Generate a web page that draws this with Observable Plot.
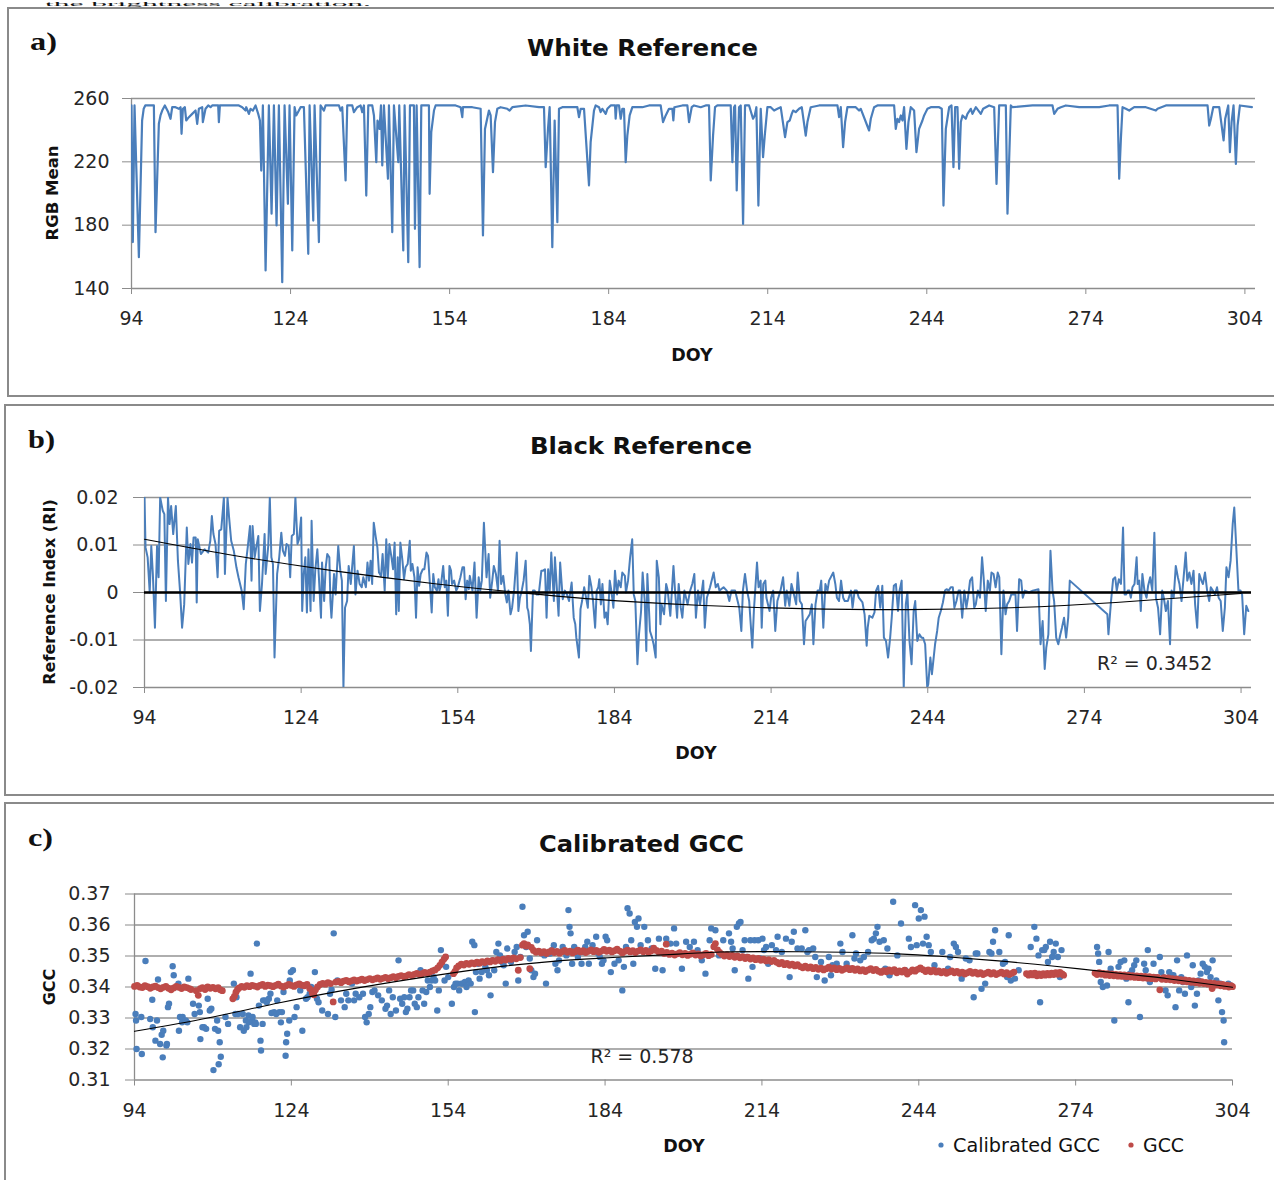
<!DOCTYPE html>
<html><head><meta charset="utf-8">
<script src="https://cdn.jsdelivr.net/npm/d3@7"></script>
<script src="https://cdn.jsdelivr.net/npm/@observablehq/plot@0.6"></script>
<style>
html,body{margin:0;padding:0;background:#fff;}
body{width:1274px;height:1180px;overflow:hidden;position:relative;font-family:"DejaVu Sans",sans-serif;}
.box{position:absolute;border:2px solid #8a8a8a;box-sizing:border-box;}
.plot{position:absolute;left:0;}
.plot svg{overflow:visible;}
#ov{position:absolute;left:0;top:0;pointer-events:none;}
</style></head><body>
<div class="box" style="left:7px;top:7px;width:1300px;height:390px"></div>
<div class="box" style="left:4px;top:404px;width:1300px;height:392px"></div>
<div class="box" style="left:4px;top:802px;width:1300px;height:400px"></div>
<script>
// ---------- tick values / labels ----------
const doyTicks = [94, 124, 154, 184, 214, 244, 274, 304];
const doyLabels = ["94", "124", "154", "184", "214", "244", "274", "304"];
const rgbTicks = [140, 180, 220, 260];
const rgbLabels = ["140", "180", "220", "260"];
const riTicks = [-0.02, -0.01, 0, 0.01, 0.02];
const riLabels = ["-0.02", "-0.01", "0", "0.01", "0.02"];
const gccTicks = [0.31, 0.32, 0.33, 0.34, 0.35, 0.36, 0.37];
const gccLabels = ["0.31", "0.32", "0.33", "0.34", "0.35", "0.36", "0.37"];

// ---------- a) White reference: [DOY, RGB mean] ----------
const whiteRef = [[94.0,255.6],[94.25,169.3],[94.57,255.6],[95.39,159.8],[96.0,246.1],[96.3,253.5],[96.6,255.6],[98.22,255.6],[98.53,175.6],[99.16,244.0],[99.47,249.3],[99.79,252.4],[100.29,255.6],[100.92,251.4],[101.36,247.2],[101.68,254.5],[102.3,254.5],[102.93,253.5],[103.25,254.5],[103.44,237.7],[103.69,253.5],[104.06,254.5],[104.32,246.1],[104.82,248.2],[105.45,250.3],[106.08,252.4],[106.39,244.0],[106.71,253.5],[107.34,254.5],[107.46,245.1],[107.96,253.5],[108.47,255.6],[108.91,254.5],[109.22,255.6],[110.35,255.6],[110.48,245.1],[110.67,255.6],[114.25,255.6],[114.88,254.5],[115.51,252.4],[115.64,254.5],[116.14,250.3],[116.45,253.5],[116.9,252.4],[117.4,255.6],[117.9,250.3],[118.22,246.1],[118.47,214.5],[118.78,255.6],[119.29,151.4],[119.91,255.6],[120.42,187.2],[120.86,255.6],[121.36,179.8],[121.8,255.6],[122.43,144.0],[122.87,255.6],[123.5,193.5],[123.81,255.6],[124.32,164.0],[124.76,254.5],[125.07,249.3],[125.57,252.4],[125.89,254.5],[126.52,254.5],[127.34,161.9],[127.59,255.6],[128.28,182.9],[128.53,255.6],[129.35,169.3],[129.66,255.6],[130.29,252.4],[130.61,255.6],[133.12,255.6],[133.44,252.4],[133.75,254.5],[134.38,208.2],[134.69,255.6],[135.64,255.6],[135.95,251.4],[136.58,254.5],[137.21,255.6],[137.52,251.4],[137.84,255.6],[138.28,198.7],[138.66,255.6],[139.41,255.6],[139.73,249.3],[140.17,219.8],[140.4,246.1],[140.79,240.8],[141.05,255.6],[141.3,217.7],[141.61,255.6],[142.37,209.3],[142.56,255.6],[143.18,175.6],[143.5,255.6],[144.32,219.8],[144.5,255.6],[145.26,164.0],[145.51,255.6],[146.2,156.6],[146.52,255.6],
[147.27,255.6],[147.46,177.7],[147.78,255.6],[148.34,153.5],[148.66,255.6],[150.1,255.6],[150.23,199.8],[150.54,238.7],[151.05,252.4],[151.36,255.6],[155.13,255.6],[156.08,254.5],[156.39,248.2],[156.52,254.5],[158.28,254.5],[159.85,253.5],[160.29,173.5],[160.67,240.8],[161.42,252.4],[161.74,249.3],[162.18,213.5],[162.56,245.1],[163.0,253.5],[163.62,254.5],[164.88,253.5],[165.32,252.4],[165.83,254.5],[168.34,255.6],[170.86,254.5],[171.8,254.5],[172.12,216.6],[172.56,240.8],[172.87,254.5],[173.37,166.1],[173.81,246.1],[174.32,181.9],[174.63,253.5],[175.26,254.5],[177.15,254.5],[178.09,254.5],[178.4,248.2],[178.72,253.5],[179.35,253.5],[180.29,205.1],[180.6,232.4],[181.23,252.4],[181.55,255.6],[182.18,254.5],[182.49,251.4],[182.81,253.5],[183.44,250.3],[183.75,253.5],[184.38,255.6],[185.2,255.6],[185.32,247.2],[185.51,255.6],[185.95,255.6],[186.27,247.2],[186.58,253.5],[186.89,253.5],[187.21,219.8],[187.52,236.6],[187.96,249.3],[188.47,254.5],[190.35,254.5],[191.61,255.6],[193.81,255.6],[194.25,245.1],[194.76,249.3],[195.38,253.5],[196.01,253.5],[196.2,246.1],[196.39,254.5],[197.9,255.6],[198.84,255.6],[199.16,245.1],
[199.66,254.5],[200.1,255.6],[201.36,254.5],[202.3,255.6],[202.93,255.6],[203.25,208.2],[203.69,236.6],[204.06,254.5],[204.5,255.6],[207.02,255.6],[207.34,219.8],[207.65,254.5],[207.84,255.6],[208.15,201.9],[208.59,254.5],[208.91,255.6],[209.35,180.8],[209.72,255.6],[210.48,255.6],[211.23,247.2],[211.55,249.3],[211.86,254.5],[212.24,192.4],[212.68,253.5],[213.12,222.9],[213.44,236.6],[213.94,254.5],[214.57,254.5],[215.2,252.4],[215.83,253.5],[216.45,254.5],[217.27,235.6],[217.71,245.1],[218.15,246.1],[218.53,250.3],[218.78,252.4],[219.28,251.4],[219.91,253.5],[220.42,254.5],[221.17,236.6],[221.49,245.1],[222.11,254.5],[223.69,255.6],[227.15,255.6],[227.46,248.2],[227.78,254.5],[228.22,229.3],[228.59,245.1],[229.03,254.5],[230.6,254.5],[231.23,252.4],[231.55,253.5],[233.12,239.8],[233.44,247.2],[234.06,254.5],[234.69,255.6],[237.84,255.6],[238.15,240.8],[238.47,247.2],[238.78,245.1],[239.1,249.3],[239.41,246.1],[239.72,254.5],[240.16,228.2],[240.54,245.1],[240.98,254.5],[241.61,252.4],[242.05,226.1],[242.55,240.8],[243.18,246.1],[243.5,249.3],[243.81,251.4],[244.13,253.5],[244.76,254.5],[246.33,254.5],[246.83,253.5],[247.15,192.4],[247.59,240.8],[248.22,254.5],[248.66,255.6],[249.03,216.6],[249.35,254.5],[249.79,254.5],[250.1,215.6],[250.42,245.1],[250.74,249.3],[251.36,247.2],[251.67,250.3],[252.3,253.5],
[252.62,250.3],[253.25,254.5],[254.19,250.3],[254.63,253.5],[255.76,255.6],[256.71,254.5],[257.15,206.1],[257.65,255.6],[258.91,255.6],[259.22,187.2],[259.85,255.6],[260.17,254.5],[263.94,255.6],[267.71,255.6],[268.03,250.3],[268.66,253.5],[269.28,254.5],[270.23,255.6],[272.74,254.5],[276.52,254.5],[278.4,255.6],[279.98,255.6],[280.29,209.3],[280.61,234.5],[280.92,254.5],[281.55,253.5],[282.18,252.4],[283.12,254.5],[285.32,254.5],[287.21,252.4],[287.52,253.5],[289.1,255.6],[296.96,255.6],[297.27,242.9],[297.59,247.2],[298.03,254.5],[299.16,254.5],[299.98,233.5],[300.29,247.2],[300.86,255.6],[301.17,226.1],[301.49,245.1],[301.86,255.6],[302.3,218.7],[302.62,242.9],[303.06,255.6],[305.32,254.5]];

// ---------- b) Black reference: [DOY, RI] ----------
const blackRef = [[94.0,0.0200],[94.2,0.0095],[94.6,0.0074],[95.0,0.0000],[95.3,0.0098],[95.6,0.0039],[96.0,-0.0074],[96.4,0.0098],[96.7,0.0032],[97.0,0.0200],[97.5,0.0172],[97.8,0.0165],[98.1,-0.0018],[98.5,0.0200],[98.8,0.0144],[99.1,0.0182],[99.5,0.0123],[100.0,0.0182],[100.4,0.0067],[100.8,0.0004],[101.2,-0.0074],[101.6,-0.0025],[102.1,0.0137],[102.4,0.0060],[102.8,0.0102],[103.1,0.0063],[103.4,0.0116],[103.8,0.0116],[104.0,-0.0021],[104.2,0.0112],[104.8,0.0081],[105.5,0.0091],[106.2,0.0084],[106.6,0.0109],[106.9,0.0161],[107.2,0.0123],[107.6,0.0102],[108.0,0.0032],[108.3,0.0130],[108.7,0.0133],[109.2,0.0200],[109.4,0.0039],[109.9,0.0200],[110.2,0.0158],[110.6,0.0109],[111.1,0.0088],[111.6,0.0053],[112.0,0.0032],[112.6,0.0004],[113.0,-0.0035],[113.4,0.0060],[113.8,0.0098],[114.2,0.0140],[114.5,0.0025],[114.7,0.0140],[115.1,0.0074],[115.4,0.0095],[115.8,0.0119],[116.1,-0.0039],[116.5,0.0018],[117.0,0.0123],[117.2,0.0039],[117.7,0.0098],[118.0,0.0200],[118.3,0.0074],[118.6,0.0060],[118.9,-0.0137],[119.4,0.0039],[119.8,0.0074],[120.2,0.0126],[120.5,0.0088],[120.9,0.0077],[121.2,0.0102],[121.6,0.0098],[121.9,0.0032],[122.2,0.0119],[122.6,0.0123],[122.9,0.0200],[123.3,0.0102],[123.6,0.0112],[124.0,0.0158],[124.2,-0.0039],[124.5,0.0039],[124.8,0.0074],[125.1,-0.0042],[125.4,0.0091],[125.8,-0.0039],[126.0,0.0151],[126.4,-0.0018],[126.7,0.0046],[127.1,0.0091],[127.4,0.0032],[127.8,-0.0053],[128.0,0.0063],[128.4,-0.0018],[128.7,0.0053],[129.0,0.0081],[129.4,0.0074],[129.6,-0.0018],[129.8,-0.0053],[130.3,0.0039],[130.6,-0.0004],[131.1,0.0098],[131.5,0.0046],[131.8,0.0025],[132.1,-0.0200],[132.4,-0.0032],[132.8,-0.0018],[133.1,0.0056],[133.5,0.0018],[134.1,0.0098],[134.4,-0.0004],[134.8,0.0046],[135.2,0.0018],[135.6,0.0011],[135.9,0.0032],[136.4,0.0011],[136.7,0.0063],[137.0,0.0025],[137.3,0.0067],[137.6,0.0018],[137.9,0.0147],[138.3,0.0116],[138.6,0.0095],[138.9,0.0042],[139.3,0.0035],[139.6,0.0081],[140.0,0.0004],[140.3,0.0112],[140.6,0.0032],[140.9,0.0102],[141.3,0.0074],[141.6,0.0049],[141.9,0.0105],[142.2,-0.0046],[142.5,0.0074],[142.7,-0.0039],[143.0,0.0105],[143.4,0.0067],[143.7,0.0028],[144.0,0.0053],[144.4,0.0060],[144.8,0.0109],[145.0,0.0046],[145.3,0.0060],[145.7,0.0032],[146.0,-0.0053],[146.3,0.0053],[146.6,0.0014],[146.9,0.0039],[147.3,0.0049],[147.6,0.0049],[148.0,0.0084],[148.3,0.0077],[148.7,0.0011],[149.0,-0.0042],[149.3,0.0039],[149.6,0.0011],[150.0,0.0004],[150.3,0.0028],[150.5,0.0004],[150.8,0.0018],[151.2,0.0056],[151.5,0.0011],[151.8,0.0025],[152.1,-0.0049],[152.4,0.0056],[152.7,0.0046],[152.9,0.0018],[153.3,0.0025],[153.7,0.0004],[154.0,0.0011],[154.5,0.0032],[154.9,0.0053],[155.2,0.0053],[155.5,-0.0014],[155.8,0.0025],[156.1,0.0007],[156.3,0.0035],[156.8,0.0004],[157.2,0.0063],[157.6,-0.0053],[158.0,0.0032],[158.3,0.0004],[158.6,0.0025],[159.0,0.0147],[159.5,0.0032],[159.9,0.0081],[160.2,-0.0011],[160.6,0.0025],[160.9,0.0056],[161.3,0.0039],[161.7,0.0004],[162.0,0.0109],[162.3,0.0018],[162.7,0.0035],[163.1,-0.0004],[163.4,-0.0021],[163.7,0.0004],[164.1,-0.0046],[164.4,-0.0032],[164.8,0.0007],[165.3,0.0084],[165.6,-0.0039],[165.9,-0.0011],[166.3,0.0007],[166.6,0.0025],[167.0,0.0067],[167.3,-0.0032],[167.5,-0.0039],[167.8,-0.0067],[168.0,-0.0123],[168.4,0.0004],[168.7,0.0004],[169.1,-0.0004],[169.5,-0.0004],[170.0,0.0046],[170.3,0.0046],[170.7,0.0049],[171.0,-0.0053],[171.3,0.0049],[171.6,0.0004],[171.9,0.0084],[172.4,-0.0018],[172.6,0.0074],[173.0,0.0004],[173.3,-0.0049],[173.6,0.0063],[174.1,-0.0014],[174.5,0.0004],[174.9,-0.0004],[175.3,-0.0018],[175.8,0.0021],[176.2,-0.0053],[176.5,-0.0067],[176.7,-0.0095],[177.2,-0.0137],[177.5,-0.0035],[177.8,-0.0018],[178.2,0.0011],[178.5,-0.0007],[178.9,-0.0032],[179.2,0.0035],[179.6,0.0011],[179.9,-0.0018],[180.3,-0.0074],[180.6,0.0004],[180.9,0.0011],[181.1,0.0028],[181.4,-0.0025],[181.7,0.0018],[182.1,-0.0053],[182.4,-0.0042],[182.7,-0.0067],[183.1,0.0025],[183.4,0.0004],[183.8,-0.0032],[184.1,0.0046],[184.5,-0.0004],[184.8,0.0025],[185.2,0.0011],[185.5,0.0042],[186.0,0.0035],[186.2,0.0000],[186.6,0.0025],[187.0,0.0074],[187.4,0.0112],[187.7,-0.0004],[188.0,-0.0018],[188.4,-0.0151],[188.7,-0.0088],[189.1,-0.0039],[189.4,0.0042],[189.8,-0.0018],[190.1,-0.0123],[190.3,0.0039],[190.8,-0.0081],[191.2,-0.0095],[191.5,-0.0109],[191.9,-0.0137],[192.1,0.0067],[192.5,0.0032],[192.8,-0.0067],[193.0,-0.0025],[193.5,-0.0046],[193.9,0.0018],[194.2,0.0004],[194.7,-0.0049],[195.3,0.0056],[195.6,0.0004],[196.0,-0.0053],[196.3,0.0018],[196.7,-0.0032],
[197.0,-0.0053],[197.4,0.0004],[198.0,-0.0025],[198.5,0.0004],[198.9,0.0018],[199.3,0.0039],[199.6,-0.0053],[200.0,0.0004],[200.4,-0.0025],[201.0,0.0025],[201.3,-0.0074],[201.7,-0.0011],[202.3,0.0011],[203.0,0.0042],[203.4,0.0011],[203.8,0.0018],[204.1,0.0004],[204.9,0.0011],[205.5,0.0004],[206.0,-0.0018],[206.4,0.0004],[207.1,0.0004],[207.9,-0.0032],[208.3,-0.0081],[208.6,0.0004],[209.0,0.0039],[209.4,0.0004],[209.8,-0.0018],[210.4,-0.0116],[210.7,-0.0039],[211.3,0.0063],[211.6,0.0011],[212.0,0.0025],[212.2,-0.0074],[212.5,0.0018],[212.9,0.0025],[213.1,-0.0011],[213.7,-0.0039],[214.0,-0.0011],[214.4,0.0004],[214.8,-0.0081],[215.2,-0.0018],[215.8,0.0004],[216.3,0.0032],[216.7,-0.0028],[217.0,0.0004],[217.5,-0.0028],[217.9,0.0018],[218.2,0.0004],[218.8,-0.0025],[219.1,0.0042],[219.5,-0.0018],[219.9,-0.0025],[220.3,-0.0109],[220.6,-0.0060],[221.0,-0.0053],[221.4,-0.0046],[221.8,-0.0025],[222.1,-0.0109],[222.5,-0.0025],[222.9,0.0004],[223.3,0.0004],[223.6,0.0025],[224.0,-0.0074],[224.4,0.0018],[224.8,0.0004],[225.1,0.0025],[225.9,0.0042],[226.3,0.0018],[226.6,-0.0011],[227.0,-0.0018],[227.4,0.0025],[227.8,-0.0011],[228.1,-0.0018],[228.7,-0.0018],[229.3,0.0004],[229.6,-0.0032],[230.0,0.0004],[230.4,0.0004],[230.8,-0.0011],[231.5,-0.0021],[231.9,-0.0046],[232.3,-0.0112],[232.5,-0.0074],[232.8,-0.0049],[233.4,-0.0053],[233.8,-0.0042],[234.1,0.0004],[234.5,0.0014],[234.9,-0.0032],[235.3,0.0014],[235.6,-0.0095],[236.0,-0.0102],[236.4,-0.0137],[236.8,-0.0095],[237.1,-0.0053],[237.5,0.0014],[237.9,0.0018],[238.3,-0.0039],[238.6,0.0004],[239.0,0.0025],[239.4,-0.0200],[239.8,-0.0025],[240.1,0.0000],[240.5,-0.0102],[240.9,-0.0151],[241.3,-0.0039],[241.6,-0.0018],[242.0,-0.0102],[242.4,-0.0088],[242.8,-0.0095],[243.1,-0.0095],[243.5,-0.0109],[243.9,-0.0200],[244.1,-0.0193],[244.5,-0.0137],[244.8,-0.0172],[245.4,-0.0109],[245.8,-0.0081],[246.1,-0.0053],[246.5,-0.0039],[246.9,-0.0021],[247.3,0.0004],[247.6,0.0007],[248.0,0.0004],[248.4,0.0011],[248.8,0.0011],[249.1,-0.0032],[249.5,-0.0018],[249.9,0.0004],[250.2,0.0004],[250.6,-0.0053],[251.0,0.0004],[251.4,-0.0032],[251.7,-0.0011],[252.1,0.0025],[252.5,0.0032],[252.9,-0.0032],[253.2,-0.0025],[253.6,0.0004],[254.0,-0.0011],[254.4,0.0074],[254.7,0.0032],[255.1,-0.0039],[255.5,0.0025],[255.9,0.0004],[256.2,0.0042],[256.6,0.0039],[257.0,0.0011],[257.4,0.0042],[257.7,0.0032],[258.1,-0.0130],[258.5,0.0004],[258.9,-0.0046],[259.2,-0.0025],[259.6,-0.0018],[260.0,-0.0004],[260.8,-0.0004],[261.1,-0.0081],[261.5,0.0028],[261.9,0.0025],[262.2,-0.0011],[262.6,0.0004],[263.4,0.0000],[264.1,0.0004],[265.2,0.0007],[265.6,-0.0109],[266.0,-0.0060],[266.4,-0.0161],[266.7,-0.0116],[267.1,-0.0088],[267.5,0.0088],[267.9,0.0004],[268.2,-0.0018],[268.6,-0.0095],[269.0,-0.0109],[269.4,-0.0088],[269.7,-0.0074],[270.1,-0.0053],[270.5,-0.0095],[270.9,-0.0053],[271.2,0.0025],[278.4,-0.0046],[278.6,-0.0088],[279.1,-0.0018],[279.5,0.0028],[279.9,0.0032],[280.2,0.0004],[280.6,0.0028],[281.0,0.0018],[281.4,0.0137],[281.7,-0.0004],[282.0,-0.0004],[282.3,0.0004],[282.6,0.0004],[282.9,-0.0011],[283.2,0.0011],[283.6,0.0018],[284.0,0.0074],[284.2,0.0018],[284.5,0.0025],[284.8,-0.0039],[285.1,0.0039],[285.5,0.0004],[285.9,-0.0011],[286.2,0.0014],[286.6,0.0032],[287.0,0.0004],[287.4,0.0126],[287.7,-0.0011],[288.1,-0.0032],[288.5,-0.0088],[288.9,0.0004],[289.2,-0.0011],[289.6,-0.0039],[290.0,-0.0018],[290.4,-0.0109],[290.7,0.0004],[291.1,-0.0011],[291.5,0.0056],[291.9,0.0032],[292.2,0.0018],[292.6,-0.0018],[293.0,0.0032],[293.4,0.0084],[293.7,0.0025],[294.1,0.0042],[294.5,0.0018],[294.9,0.0046],[295.2,-0.0025],[295.6,-0.0074],[296.0,0.0039],[296.4,0.0025],[296.7,0.0018],[297.1,0.0042],[297.5,0.0004],[297.9,-0.0018],[298.2,0.0011],[298.6,0.0004],[299.0,-0.0004],[299.4,0.0011],[299.7,-0.0011],[300.1,-0.0018],[300.5,-0.0081],[300.9,-0.0032],[301.2,0.0053],[301.6,0.0032],[302.0,0.0067],[302.4,0.0144],[302.7,0.0179],[303.1,0.0091],[303.5,0.0004],[303.9,0.0004],[304.2,-0.0004],[304.6,-0.0088],[305.0,-0.0028],[305.4,-0.0039]];
const blackTrend = [[94,0.0112],[110,0.0080],[130,0.0046],[150,0.0018],[164,0.0002],[180,-0.0014],[200,-0.0027],[220,-0.0034],[240,-0.0036],[260,-0.0032],[280,-0.0021],[304,-0.0002]];
const blackR2 = "R² = 0.3452";

// ---------- c) Calibrated GCC (blue) : [DOY, GCC] ----------
const calGcc = [[94.2,0.3313],[94.3,0.3292],[94.4,0.3200],[95.3,0.3303],[95.4,0.3184],[96.1,0.3484],[97.0,0.3297],[97.4,0.3359],[97.5,0.3270],[98.0,0.3227],[98.3,0.3292],[98.5,0.3424],[98.9,0.3216],[99.2,0.3246],[99.4,0.3173],[99.5,0.3259],[100.1,0.3211],[100.2,0.3216],[100.4,0.3335],[100.6,0.3346],[101.3,0.3467],[101.5,0.3438],[102.0,0.3400],[102.4,0.3411],[102.5,0.3259],[102.7,0.3303],[103.1,0.3286],[103.2,0.3303],[103.8,0.3292],[104.1,0.3286],[104.3,0.3427],[105.2,0.3346],[105.5,0.3313],[106.3,0.3340],[106.5,0.3319],[106.6,0.3232],[107.0,0.3270],[107.3,0.3270],[107.7,0.3265],[108.0,0.3362],[108.4,0.3324],[108.7,0.3330],[109.1,0.3132],[109.4,0.3265],[109.8,0.3292],[110.0,0.3259],[110.1,0.3151],[110.3,0.3222],[110.5,0.3175],[111.4,0.3303],[111.9,0.3281],[113.0,0.3411],[113.3,0.3313],[113.5,0.3367],[113.8,0.3313],[114.2,0.3270],[114.7,0.3313],[114.9,0.3259],[115.3,0.3292],[115.4,0.3270],[115.8,0.3308],[115.9,0.3286],[116.2,0.3443],[116.5,0.3292],[116.6,0.3303],[116.9,0.3281],[117.1,0.3286],[117.2,0.3281],[117.4,0.3540],[117.8,0.3340],[118.1,0.3227],[118.2,0.3195],[118.5,0.3281],[118.6,0.3357],[119.0,0.3357],[119.3,0.3351],[119.7,0.3362],[120.0,0.3378],[120.2,0.3316],[120.7,0.3319],[121.1,0.3313],[121.3,0.3357],[121.7,0.3319],[122.0,0.3286],[122.2,0.3319],[122.5,0.3384],[122.9,0.3178],[123.0,0.3222],[123.2,0.3249],[123.6,0.3292],[123.7,0.3421],[123.9,0.3448],[124.3,0.3454],[124.6,0.3303],[125.0,0.3335],[125.7,0.3389],[126.1,0.3259],[126.8,0.3362],[127.1,0.3367],[127.5,0.3378],[127.8,0.3400],[128.2,0.3389],[128.5,0.3448],[128.9,0.3362],[129.2,0.3351],[129.9,0.3324],[131.0,0.3313],[131.4,0.3378],[131.7,0.3391],[132.1,0.3573],[132.4,0.3303],[132.8,0.3421],[133.5,0.3357],[134.2,0.3335],[134.5,0.3378],[134.9,0.3357],[135.6,0.3411],[136.0,0.3357],[136.3,0.3378],[137.0,0.3367],[137.7,0.3378],[138.1,0.3303],[138.4,0.3286],[138.8,0.3313],[139.1,0.3335],[139.5,0.3384],[139.9,0.3389],[140.6,0.3373],[141.3,0.3357],[142.0,0.3330],[142.3,0.3340],[142.7,0.3389],[143.0,0.3313],[143.4,0.3367],[144.0,0.3324],[144.5,0.3486],[144.8,0.3362],[145.2,0.3346],[145.6,0.3367],[145.9,0.3319],[146.2,0.3330],[146.6,0.3367],[146.9,0.3389],[147.3,0.3389],[147.6,0.3346],[148.0,0.3335],[148.3,0.3367],[148.7,0.3454],[149.1,0.3389],[149.4,0.3346],[149.8,0.3384],[150.1,0.3421],[150.5,0.3400],[150.8,0.3421],[151.2,0.3432],[151.5,0.3421],[151.9,0.3324],[152.2,0.3389],[152.6,0.3519],[153.3,0.3421],[153.6,0.3465],[154.0,0.3432],[154.7,0.3346],[155.1,0.3400],[155.4,0.3411],[155.8,0.3411],[156.1,0.3389],[156.5,0.3411],[156.8,0.3411],[157.2,0.3416],[157.5,0.3400],[157.9,0.3421],[158.3,0.3411],[158.6,0.3546],[159.0,0.3535],[159.1,0.3319],[159.3,0.3448],[159.7,0.3475],[160.0,0.3427],[160.4,0.3448],[161.1,0.3465],[161.4,0.3454],[161.8,0.3438],[162.1,0.3373],[162.5,0.3486],[162.8,0.3454],[163.2,0.3513],[163.6,0.3540],[163.9,0.3502],[164.3,0.3481],[164.6,0.3470],[165.0,0.3411],[165.3,0.3524],[166.0,0.3481],[166.7,0.3513],[167.1,0.3529],[167.4,0.3421],[167.8,0.3497],[168.2,0.3659],[168.5,0.3567],[168.9,0.3529],[169.2,0.3578],[169.6,0.3492],[169.9,0.3454],[170.3,0.3432],[170.6,0.3443],[171.0,0.3551],[171.7,0.3513],[172.0,0.3508],[172.4,0.3502],[172.7,0.3411],[173.1,0.3508],[173.5,0.3508],[173.8,0.3519],[174.2,0.3535],[174.5,0.3475],[174.9,0.3454],[175.2,0.3486],[175.9,0.3529],[176.6,0.3502],[177.0,0.3648],[177.2,0.3594],[177.4,0.3573],[177.7,0.3475],[178.1,0.3529],[178.8,0.3497],[179.5,0.3475],[179.8,0.3513],[180.2,0.3529],[180.6,0.3546],[180.9,0.3475],[181.6,0.3535],[182.3,0.3562],[182.7,0.3508],[183.0,0.3497],[183.4,0.3475],[183.7,0.3486],[184.1,0.3562],[184.4,0.3551],[185.1,0.3448],[185.8,0.3475],[186.6,0.3486],[187.3,0.3389],[187.6,0.3465],[188.0,0.3529],[188.3,0.3654],[188.7,0.3637],[189.0,0.3551],[189.4,0.3475],[189.7,0.3610],[190.1,0.3594],[190.4,0.3621],[190.8,0.3535],[191.5,0.3594],[192.2,0.3551],[192.9,0.3524],[193.6,0.3459],[194.3,0.3556],
[195.0,0.3454],[195.7,0.3556],[196.5,0.3540],[197.2,0.3589],[197.6,0.3540],[198.7,0.3459],[199.5,0.3546],[200.2,0.3529],[201.0,0.3546],[201.7,0.3519],[202.5,0.3486],[203.2,0.3443],[204.0,0.3551],[204.3,0.3589],[205.1,0.3583],[205.8,0.3502],[206.6,0.3551],[207.7,0.3573],[208.1,0.3546],[208.4,0.3524],[208.8,0.3454],[209.2,0.3594],[209.6,0.3605],[209.9,0.3610],[210.3,0.3519],[210.7,0.3551],[211.1,0.3497],[211.4,0.3427],[211.8,0.3551],[212.2,0.3465],[212.6,0.3551],[213.3,0.3551],[213.7,0.3492],[214.1,0.3556],[214.4,0.3519],[214.8,0.3529],[215.2,0.3475],[215.9,0.3535],[216.7,0.3519],[217.0,0.3562],[217.8,0.3513],[218.6,0.3556],[219.3,0.3432],[219.7,0.3546],[220.1,0.3578],[220.8,0.3524],[221.6,0.3524],[222.3,0.3583],[222.7,0.3513],[223.0,0.3519],[223.8,0.3524],[224.2,0.3497],[224.5,0.3432],[225.3,0.3481],[226.0,0.3421],[226.8,0.3497],[227.2,0.3438],[227.5,0.3470],[228.3,0.3475],[229.0,0.3540],[229.4,0.3513],[230.2,0.3475],[230.9,0.3459],[231.3,0.3567],[231.7,0.3492],[232.0,0.3508],[232.8,0.3486],[233.5,0.3497],[234.3,0.3513],[235.0,0.3551],[235.4,0.3556],[235.8,0.3573],[236.1,0.3594],[236.5,0.3546],[237.3,0.3551],[237.6,0.3459],[238.0,0.3524],[238.4,0.3438],[239.1,0.3675],[239.9,0.3502],[240.6,0.3605],[241.4,0.3454],[242.1,0.3556],[242.5,0.3529],[243.3,0.3664],[243.6,0.3535],[244.0,0.3621],[244.4,0.3648],[244.8,0.3540],[245.1,0.3627],[245.5,0.3562],[245.9,0.3535],[246.3,0.3513],[247.0,0.3470],[247.7,0.3448],[248.5,0.3513],[249.6,0.3459],[250.0,0.3497],[250.7,0.3540],[251.1,0.3529],[251.5,0.3513],[252.2,0.3427],[253.0,0.3492],[253.7,0.3486],[254.5,0.3367],[254.9,0.3508],[255.2,0.3508],[256.0,0.3394],[256.7,0.3411],[257.5,0.3513],[257.9,0.3508],[258.2,0.3546],[258.6,0.3583],[259.4,0.3513],[260.1,0.3475],[260.5,0.3481],[260.9,0.3432],[261.2,0.3567],[261.6,0.3421],[262.4,0.3427],[263.1,0.3454],[265.4,0.3529],[266.1,0.3594],[266.5,0.3556],[266.9,0.3502],[267.2,0.3351],[267.6,0.3519],[268.0,0.3519],[268.3,0.3529],[268.7,0.3481],[269.1,0.3546],[269.5,0.3497],[269.8,0.3513],[270.2,0.3540],[270.6,0.3497],[271.0,0.3432],[271.3,0.3519],[278.1,0.3529],[278.3,0.3508],[278.5,0.3481],[278.8,0.3416],[279.2,0.3400],[280.0,0.3405],[280.3,0.3513],[280.7,0.3459],[281.4,0.3292],[282.2,0.3465],[282.6,0.3481],[283.3,0.3486],[283.7,0.3427],[284.1,0.3351],[284.4,0.3443],[284.8,0.3454],[285.2,0.3470],[285.6,0.3486],[286.3,0.3303],[287.1,0.3475],[287.4,0.3454],[287.8,0.3519],[288.2,0.3416],[288.9,0.3475],[289.3,0.3432],[290.1,0.3497],[290.4,0.3448],[290.8,0.3432],[291.2,0.3389],[291.6,0.3373],[291.9,0.3448],[292.3,0.3438],[292.7,0.3438],[293.1,0.3335],[293.4,0.3486],[293.8,0.3389],[294.2,0.3432],[294.5,0.3416],[294.9,0.3378],[295.3,0.3502],[296.1,0.3400],[296.4,0.3470],[296.8,0.3340],[297.2,0.3378],[297.5,0.3421],[297.9,0.3443],[298.3,0.3475],[298.7,0.3465],[299.1,0.3448],[299.4,0.3459],[299.8,0.3432],[300.2,0.3486],[300.9,0.3421],[301.3,0.3357],[301.7,0.3411],[302.0,0.3319],[302.3,0.3292],[302.4,0.3222],[303.2,0.3411],[303.6,0.3405]];

// ---------- c) GCC (red) : [DOY, GCC] ----------
const gcc = [[94.0,0.3402],[94.5,0.3405],[95.0,0.3400],[95.5,0.3398],[96.0,0.3404],[96.5,0.3401],[97.0,0.3396],[97.5,0.3400],[98.0,0.3403],[98.5,0.3398],[99.0,0.3394],[99.5,0.3399],[100.0,0.3402],[100.5,0.3396],[101.0,0.3391],[101.5,0.3397],[102.0,0.3402],[102.5,0.3399],[103.0,0.3395],[103.5,0.3400],[104.0,0.3398],[104.5,0.3395],[104.8,0.3392],
[105.8,0.3388],[106.2,0.3373],[106.6,0.3395],[107.0,0.3398],[107.5,0.3392],[108.0,0.3400],[108.5,0.3396],[109.0,0.3399],[109.5,0.3394],[110.0,0.3398],[110.4,0.3391],[110.8,0.3388],
[112.8,0.3362],[113.1,0.3370],[113.4,0.3383],[113.7,0.3392],[114.0,0.3397],[114.5,0.3402],[115.0,0.3399],[115.5,0.3404],[116.0,0.3401],[116.5,0.3405],[117.0,0.3403],[117.5,0.3400],[118.0,0.3405],[118.5,0.3408],[119.0,0.3402],[119.5,0.3406],[120.0,0.3404],[120.5,0.3401],[121.0,0.3405],[121.5,0.3409],[122.0,0.3403],[122.5,0.3400],[123.0,0.3404],[123.5,0.3408],[124.0,0.3405],[124.5,0.3402],[125.0,0.3407],[125.5,0.3410],[126.0,0.3406],[126.5,0.3404],[127.0,0.3408],[127.5,0.3395],[128.0,0.3380],[128.3,0.3375],[128.6,0.3390],[129.0,0.3400],[129.5,0.3408],[130.0,0.3412],[130.5,0.3409],[131.0,0.3414],[131.5,0.3411],[132.0,0.3352],[132.5,0.3416],[133.0,0.3418],[133.5,0.3414],[134.0,0.3419],[134.5,0.3421],[135.0,0.3417],[135.5,0.3420],[136.0,0.3423],[136.5,0.3419],[137.0,0.3422],[137.5,0.3425],[138.0,0.3421],[138.5,0.3424],[139.0,0.3427],[139.5,0.3423],[140.0,0.3426],[140.5,0.3429],[141.0,0.3425],[141.5,0.3428],[142.0,0.3431],[142.5,0.3427],[143.0,0.3430],[143.5,0.3433],[144.0,0.3430],[144.5,0.3434],[145.0,0.3437],[145.5,0.3433],[146.0,0.3436],[146.5,0.3440],[147.0,0.3437],[147.5,0.3441],[148.0,0.3444],[148.5,0.3440],[149.0,0.3443],[149.5,0.3447],[150.0,0.3444],[150.5,0.3448],[151.0,0.3452],[151.5,0.3455],[152.0,0.3462],[152.4,0.3470],[152.8,0.3480],[153.2,0.3490],[153.5,0.3497],
[155.0,0.3443],[155.3,0.3450],[155.6,0.3462],[156.0,0.3468],[156.5,0.3474],[157.0,0.3471],[157.5,0.3476],[158.0,0.3473],[158.5,0.3478],[159.0,0.3475],[159.5,0.3480],[160.0,0.3477],[160.5,0.3482],[161.0,0.3479],[161.5,0.3484],[162.0,0.3481],[162.5,0.3486],[163.0,0.3483],[163.5,0.3488],[164.0,0.3485],[164.5,0.3490],[165.0,0.3487],[165.5,0.3492],[166.0,0.3489],[166.5,0.3494],[167.0,0.3491],[167.4,0.3454],[167.8,0.3495],[168.2,0.3535],[168.5,0.3540],[168.9,0.3532],[169.2,0.3536],[169.6,0.3459],[169.9,0.3528],[170.3,0.3518],[170.8,0.3512],[171.3,0.3516],[171.8,0.3510],[172.3,0.3514],[172.8,0.3508],[173.3,0.3513],[173.8,0.3517],[174.3,0.3511],[174.8,0.3515],[175.3,0.3509],[175.8,0.3514],[176.3,0.3518],[176.8,0.3512],[177.3,0.3516],[177.8,0.3510],[178.3,0.3514],[178.8,0.3519],[179.3,0.3513],[179.8,0.3517],[180.3,0.3511],[180.8,0.3515],[181.3,0.3520],[181.8,0.3514],[182.3,0.3518],[182.8,0.3512],[183.3,0.3516],[183.8,0.3521],[184.3,0.3515],[184.8,0.3519],[185.3,0.3513],[185.8,0.3517],[186.3,0.3522],[186.8,0.3516],[187.3,0.3510],[187.8,0.3515],[188.3,0.3519],[188.8,0.3513],[189.3,0.3517],[189.8,0.3511],[190.3,0.3516],[190.8,0.3520],[191.3,0.3514],[191.8,0.3518],[192.3,0.3512],[192.8,0.3516],[193.3,0.3525],[193.8,0.3518],[194.3,0.3512],[194.8,0.3516],[195.3,0.3508],[195.7,0.3538],[195.8,0.3512],[196.3,0.3505],[196.8,0.3509],[197.3,0.3503],[197.8,0.3507],[198.3,0.3511],[198.8,0.3504],[199.3,0.3508],[199.8,0.3502],[200.3,0.3506],[200.8,0.3510],[201.3,0.3503],[201.8,0.3507],[202.3,0.3500],[202.8,0.3504],[203.3,0.3508],[203.8,0.3501],[204.3,0.3505],[204.8,0.3530],[205.1,0.3540],[205.5,0.3520],[205.9,0.3512],[206.3,0.3506],[206.8,0.3500],[207.3,0.3504],[207.8,0.3498],[208.3,0.3502],[208.8,0.3496],[209.3,0.3500],[209.8,0.3494],[210.3,0.3498],[210.8,0.3492],[211.3,0.3496],[211.8,0.3490],[212.3,0.3494],[212.8,0.3488],[213.3,0.3492],[213.8,0.3486],[214.3,0.3490],[214.8,0.3484],[215.3,0.3488],[215.8,0.3482],[216.3,0.3486],[216.8,0.3480],[217.3,0.3475],[217.8,0.3479],[218.3,0.3472],[218.8,0.3476],[219.3,0.3470],[219.8,0.3474],[220.3,0.3468],[220.8,0.3472],[221.3,0.3466],[221.8,0.3462],[222.3,0.3467],[222.8,0.3461],[223.3,0.3465],[223.8,0.3459],[224.3,0.3463],[224.8,0.3457],[225.3,0.3461],[225.8,0.3455],[226.3,0.3459],[226.8,0.3464],[227.3,0.3458],[227.8,0.3462],[228.3,0.3456],[228.8,0.3460],[229.3,0.3454],[229.8,0.3458],[230.3,0.3462],[230.8,0.3456],[231.3,0.3460],[231.8,0.3454],[232.3,0.3458],[232.8,0.3452],[233.3,0.3456],[233.8,0.3450],[234.3,0.3455],[234.8,0.3459],[235.3,0.3453],[235.8,0.3457],[236.3,0.3451],[236.8,0.3447],[237.3,0.3453],[237.8,0.3449],[238.3,0.3455],[238.8,0.3450],[239.3,0.3456],[239.8,0.3446],[240.3,0.3452],[240.8,0.3448],[241.3,0.3454],[241.8,0.3442],[242.3,0.3449],[242.8,0.3455],[243.3,0.3451],[243.8,0.3457],[244.3,0.3462],[244.8,0.3456],[245.3,0.3450],[245.8,0.3455],[246.3,0.3449],[246.8,0.3454],[247.3,0.3448],[247.8,0.3452],[248.3,0.3446],[248.8,0.3450],[249.3,0.3444],[249.8,0.3448],[250.3,0.3452],[250.8,0.3446],[251.3,0.3450],[251.8,0.3444],[252.3,0.3448],[252.8,0.3442],[253.3,0.3446],[253.8,0.3450],[254.3,0.3444],[254.8,0.3448],[255.3,0.3442],[255.8,0.3446],[256.3,0.3440],[256.8,0.3444],[257.3,0.3448],[257.8,0.3442],[258.3,0.3446],[258.8,0.3440],[259.3,0.3444],[259.8,0.3448],[260.3,0.3442],[260.8,0.3446],[261.3,0.3440],[261.8,0.3444],[262.2,0.3448],
[264.6,0.3443],[265.0,0.3438],[265.4,0.3444],[265.8,0.3439],[266.2,0.3445],[266.6,0.3436],[267.0,0.3442],[267.4,0.3437],[267.8,0.3443],[268.2,0.3438],[268.6,0.3444],[269.0,0.3439],[269.4,0.3445],[269.8,0.3440],[270.2,0.3446],[270.6,0.3441],[271.0,0.3447],[271.4,0.3442],[271.7,0.3438],
[277.7,0.3445],[278.1,0.3440],[278.5,0.3446],[278.9,0.3441],[279.3,0.3444],[279.7,0.3438],[280.1,0.3443],[280.5,0.3437],[280.9,0.3442],[281.3,0.3436],[281.7,0.3441],[282.1,0.3435],[282.5,0.3440],[282.9,0.3434],[283.3,0.3439],[283.7,0.3433],[284.1,0.3438],[284.5,0.3432],[284.9,0.3437],[285.3,0.3431],[285.7,0.3436],[286.1,0.3430],[286.5,0.3435],[286.9,0.3429],[287.3,0.3434],[287.7,0.3428],[288.1,0.3433],[288.5,0.3427],[288.9,0.3432],[289.3,0.3426],[289.7,0.3431],[290.1,0.3391],[290.5,0.3425],[290.9,0.3430],[291.3,0.3424],[291.7,0.3429],[292.1,0.3423],[292.5,0.3427],[292.9,0.3421],[293.3,0.3426],[293.7,0.3420],[294.1,0.3424],[294.5,0.3418],[294.9,0.3423],[295.3,0.3417],[295.7,0.3421],[296.1,0.3415],[296.5,0.3420],[296.9,0.3414],[297.3,0.3418],[297.7,0.3412],[298.1,0.3417],[298.5,0.3411],[298.9,0.3415],[299.3,0.3409],[299.7,0.3413],[300.1,0.3395],[300.5,0.3412],[300.9,0.3406],[301.3,0.3410],[301.7,0.3404],[302.1,0.3408],[302.5,0.3402],[302.9,0.3406],[303.3,0.3400],[303.7,0.3404],[304.0,0.3401]];
const gccTrend = [[94,0.3257],[108,0.3300],[122,0.3350],[137,0.3398],[151,0.3436],[165,0.3468],[180,0.3490],[198,0.3506],[206,0.3513],[217,0.3514],[230,0.3512],[240,0.3507],[248,0.3499],[258,0.3486],[270,0.3467],[284,0.3441],[292,0.3426],[304,0.3399]];
const gccR2 = "R² = 0.578";

// ---------- styling ----------
const BLUE = "#4a7ebb", RED = "#be4b48", GRID = "#939393", AXIS = "#8c8c8c", TXT = "#262626";
const FONT = "DejaVu Sans";
const fmt = (ticks, labels) => d => labels[ticks.indexOf(d)];

function frameMarks(yTicks, yLabels, gridVals, yMin, xMin, tickLenY, padY) {
  return [
    Plot.ruleY(gridVals, {stroke: GRID, strokeWidth: 1.3}),
    Plot.ruleY([yMin], {stroke: AXIS, strokeWidth: 1.6}),
    Plot.ruleX([xMin], {stroke: AXIS, strokeWidth: 1.3}),
    Plot.axisX({ticks: doyTicks, tickFormat: fmt(doyTicks, doyLabels), tickSize: 6, tickPadding: 17, stroke: AXIS, fill: TXT, fontSize: 19, label: null}),
    Plot.axisY({ticks: yTicks, tickFormat: fmt(yTicks, yLabels), tickSize: tickLenY, tickPadding: padY, stroke: AXIS, fill: TXT, fontSize: 19, label: null})
  ];
}
const baseStyle = {fontFamily: FONT, fontSize: "19px", background: "transparent", overflow: "visible"};

function place(svg, top) {
  const d = document.createElement("div");
  d.className = "plot"; d.style.top = top + "px";
  d.appendChild(svg); document.body.appendChild(d);
}

// a) White Reference
place(Plot.plot({
  width: 1274, height: 290,
  marginLeft: 131, marginRight: 19, marginTop: 38, marginBottom: 62,
  x: {domain: [94, 306]}, y: {domain: [140, 260]},
  style: baseStyle,
  marks: [
    ...frameMarks(rgbTicks, rgbLabels, [180, 220, 260], 140, 94, 9, 13),
    Plot.line(whiteRef, {x: d => d[0], y: d => d[1], stroke: BLUE, strokeWidth: 2.2, clip: true})
  ]
}), 60);

// b) Black Reference
place(Plot.plot({
  width: 1274, height: 280,
  marginLeft: 144, marginRight: 23, marginTop: 27, marginBottom: 63,
  x: {domain: [94, 306]}, y: {domain: [-0.02, 0.02]},
  style: baseStyle,
  marks: [
    ...frameMarks(riTicks, riLabels, [-0.01, 0, 0.01, 0.02], -0.02, 94, 11, 15),
    Plot.line(blackRef, {x: d => d[0], y: d => d[1], stroke: BLUE, strokeWidth: 2, clip: true}),
    Plot.ruleY([0], {stroke: "#000", strokeWidth: 2.3}),
    Plot.line(blackTrend, {x: d => d[0], y: d => d[1], stroke: "#000", strokeWidth: 1.1, curve: "natural"}),
    Plot.text([blackR2], {x: 276.4, y: -0.0150, text: d => d, textAnchor: "start", fontSize: 19, fill: TXT})
  ]
}), 470);

// c) Calibrated GCC
place(Plot.plot({
  width: 1274, height: 270,
  marginLeft: 134, marginRight: 42, marginTop: 23.5, marginBottom: 60.5,
  x: {domain: [94, 304]}, y: {domain: [0.31, 0.37]},
  style: baseStyle,
  marks: [
    ...frameMarks(gccTicks, gccLabels, [0.32, 0.33, 0.34, 0.35, 0.36, 0.37], 0.31, 94, 9, 15),
    Plot.dot(calGcc, {x: d => d[0], y: d => d[1], r: 3.2, fill: BLUE, stroke: "none"}),
    Plot.dot(gcc, {x: d => d[0], y: d => d[1], r: 3.4, fill: RED, stroke: "none"}),
    Plot.line(gccTrend, {x: d => d[0], y: d => d[1], stroke: "#000", strokeWidth: 1.1, curve: "natural"}),
    Plot.text([gccR2], {x: 181.2, y: 0.3176, text: d => d, textAnchor: "start", fontSize: 19, fill: TXT})
  ]
}), 870);

// ---------- overlay texts ----------
const ov = `
<svg id="ov" width="1274" height="1180" xmlns="http://www.w3.org/2000/svg" font-family="DejaVu Sans" fill="#111">
 <text x="45" y="5.6" font-family="Liberation Serif" font-size="7" textLength="326" lengthAdjust="spacingAndGlyphs">the brightness calibration.</text>
 <text x="30" y="50" font-family="Liberation Serif" font-weight="bold" font-size="25" textLength="27" lengthAdjust="spacingAndGlyphs">a)</text>
 <text x="28" y="448" font-family="Liberation Serif" font-weight="bold" font-size="25" textLength="27" lengthAdjust="spacingAndGlyphs">b)</text>
 <text x="28" y="846" font-family="Liberation Serif" font-weight="bold" font-size="25" textLength="25" lengthAdjust="spacingAndGlyphs">c)</text>
 <text x="527" y="56" font-weight="bold" font-size="23" textLength="231" lengthAdjust="spacingAndGlyphs">White Reference</text>
 <text x="530" y="454" font-weight="bold" font-size="23" textLength="222" lengthAdjust="spacingAndGlyphs">Black Reference</text>
 <text x="539" y="852" font-weight="bold" font-size="23" textLength="205" lengthAdjust="spacingAndGlyphs">Calibrated GCC</text>
 <text transform="translate(58,193) rotate(-90)" text-anchor="middle" font-weight="bold" font-size="16.5">RGB Mean</text>
 <text transform="translate(55,592) rotate(-90)" text-anchor="middle" font-weight="bold" font-size="16">Reference Index (RI)</text>
 <text transform="translate(55,987) rotate(-90)" text-anchor="middle" font-weight="bold" font-size="16">GCC</text>
 <text x="692" y="361" text-anchor="middle" font-weight="bold" font-size="17.5">DOY</text>
 <text x="696" y="759" text-anchor="middle" font-weight="bold" font-size="17.5">DOY</text>
 <text x="684" y="1152" text-anchor="middle" font-weight="bold" font-size="17.5">DOY</text>
 <circle cx="941" cy="1145" r="2.6" fill="${BLUE}"/>
 <text x="953" y="1152" font-size="20" textLength="147" lengthAdjust="spacingAndGlyphs">Calibrated GCC</text>
 <circle cx="1131" cy="1145" r="2.6" fill="${RED}"/>
 <text x="1143" y="1152" font-size="20" textLength="41" lengthAdjust="spacingAndGlyphs">GCC</text>
</svg>`;
document.body.insertAdjacentHTML("beforeend", ov);
</script>
</body></html>
